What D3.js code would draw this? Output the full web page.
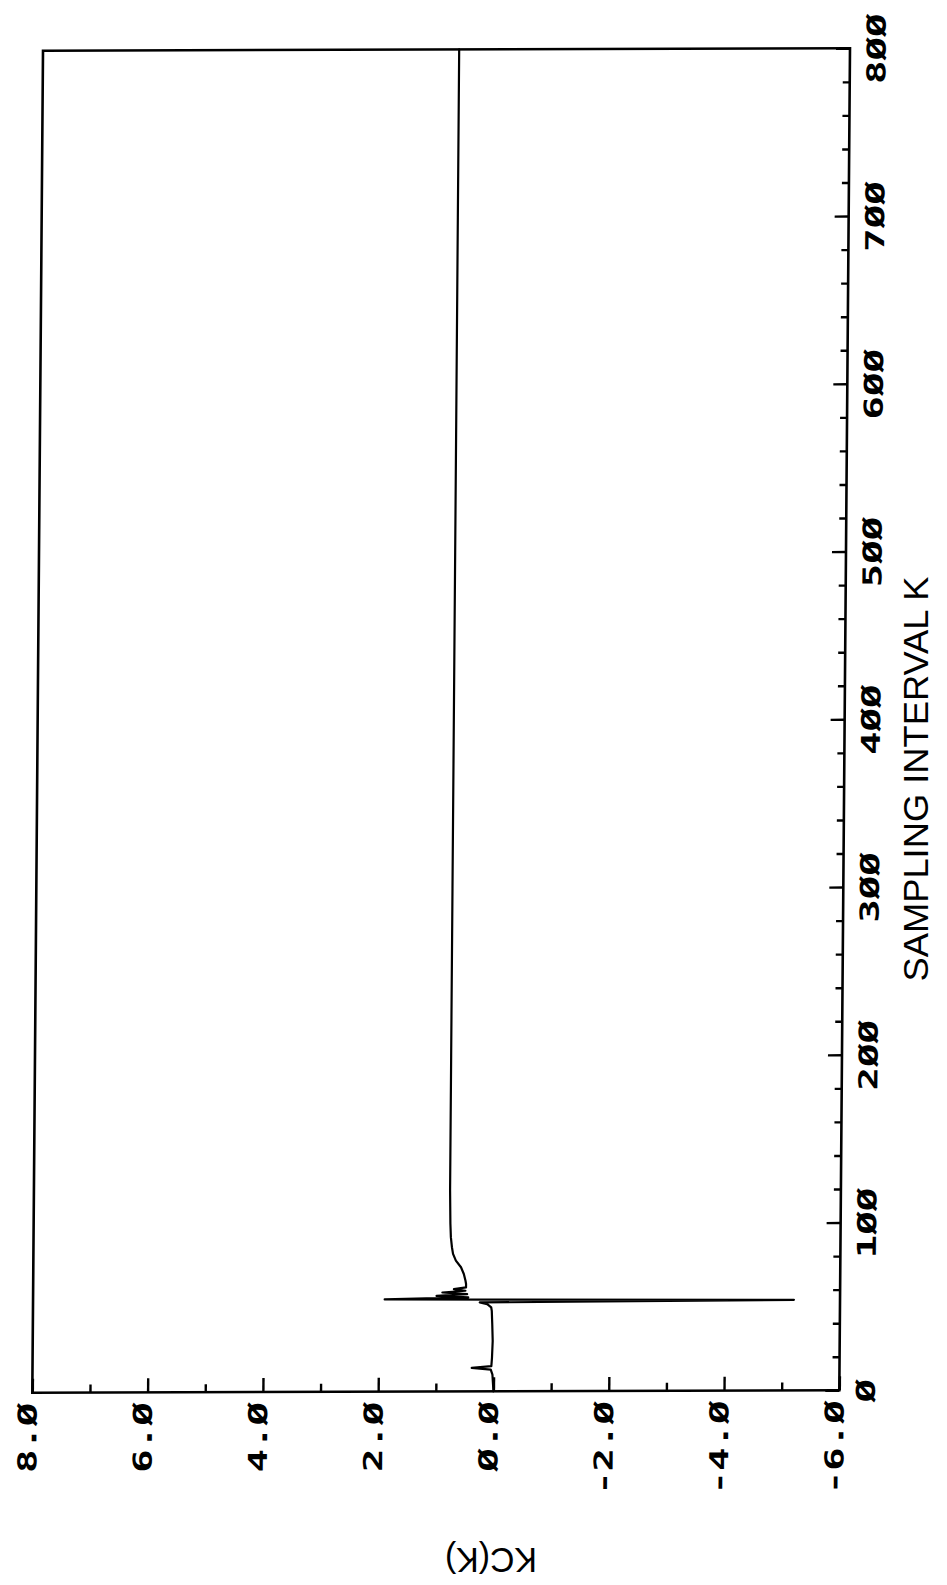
<!DOCTYPE html>
<html><head><meta charset="utf-8">
<script src="https://cdn.jsdelivr.net/npm/d3@7"></script>
<style>body{margin:0;background:#fff}</style>
</head><body>
<svg id="c" width="947" height="1585"></svg>
<script>
// Data read from the (rotated) chart
const kValues  = [0, 5, 10, 13, 14, 15, 20, 30, 40, 48,
                  50, 52, 53, 54, 55, 56, 57, 58, 59, 60,
                  61, 62, 64, 66, 70, 74, 78, 82, 86, 92,
                  100, 120, 200, 300, 400, 500, 600, 700, 800];
const kcValues = [0.00, 0.01, 0.02, 0.05, 0.38, 0.04, 0.03, 0.02, 0.03, 0.04,
                  0.05, 0.12, 0.25, -5.2, 1.9, 0.45, 1.0, 0.47, 0.9, 0.5,
                  0.7, 0.49, 0.49, 0.5, 0.53, 0.58, 0.67, 0.72, 0.74, 0.76,
                  0.77, 0.78, 0.78, 0.78, 0.78, 0.78, 0.78, 0.78, 0.78];
const kTicksMajor = [0, 100, 200, 300, 400, 500, 600, 700, 800];
const kTicksMinor = [20, 40, 60, 80, 120, 140, 160, 180, 220, 240, 260, 280, 320, 340, 360, 380,
                     420, 440, 460, 480, 520, 540, 560, 580, 620, 640, 660, 680, 720, 740, 760, 780];
const kcTicksMajor = [8, 6, 4, 2, 0, -2, -4, -6];
const kcTicksMinor = [7, 5, 3, 1, -1, -3, -5];
const xTitle = "SAMPLING INTERVAL K";
const yTitle = "KC(K)";

const W = 807, H = 1342;
const svg = d3.select("#c");
svg.append("rect").attr("width", 947).attr("height", 1585).attr("fill", "#fff");

// slight scan skew of the original page
const g = svg.append("g").attr("transform", "matrix(1,-0.00297,-0.00797,1,43,50.7)");

const x = d3.scaleLinear().domain([8, -6]).range([0, W]);   // Kc(K), horizontal
const y = d3.scaleLinear().domain([0, 800]).range([H, 0]);  // K, vertical

const fmtZ = s => s.replace(/0/g, "Ø");
const fmtK = v => fmtZ(String(v));
const fmtKc = v => fmtZ(v.toFixed(1));

const tickFont = "'DejaVu Sans Mono', monospace";

function styleAxis(sel) {
  sel.select(".domain").remove();
  sel.attr("font-family", tickFont).attr("font-size", 26).attr("font-weight", "bold");
  sel.selectAll(".tick line").attr("stroke", "#000").attr("stroke-width", 2.4);
  sel.selectAll(".tick text").attr("fill", "#000");
}

// K axis (right edge, ticks pointing inward)
const kMinor = g.append("g").attr("transform", `translate(${W},0)`)
  .call(d3.axisRight(y).tickValues(kTicksMinor).tickSize(-7).tickFormat(""));
styleAxis(kMinor);
const kMajor = g.append("g").attr("transform", `translate(${W},0)`)
  .call(d3.axisRight(y).tickValues(kTicksMajor).tickSize(-14).tickFormat(fmtK));
styleAxis(kMajor);
kMajor.selectAll(".tick text")
  .attr("x", 0).attr("y", 0).attr("dy", 0)
  .attr("text-anchor", "middle")
  .attr("transform", "translate(35.5,0) rotate(-90) scale(1.5,1)");

// Kc axis (bottom edge, ticks pointing inward)
const cMinor = g.append("g").attr("transform", `translate(0,${H})`)
  .call(d3.axisBottom(x).tickValues(kcTicksMinor).tickSize(-8).tickFormat(""));
styleAxis(cMinor);
const cMajor = g.append("g").attr("transform", `translate(0,${H})`)
  .call(d3.axisBottom(x).tickValues(kcTicksMajor).tickSize(-14).tickFormat(fmtKc));
styleAxis(cMajor);
cMajor.selectAll(".tick text")
  .attr("x", 0).attr("y", 0).attr("dy", 0)
  .attr("text-anchor", "end")
  .attr("transform", "translate(4,10) rotate(-90) scale(1.5,1)");

// frame
g.append("rect").attr("x", 0).attr("y", 0).attr("width", W).attr("height", H)
  .attr("fill", "none").attr("stroke", "#000").attr("stroke-width", 2.6);

// data line
const data = kValues.map((k, i) => ({k, kc: kcValues[i]}));
g.append("path").datum(data)
  .attr("fill", "none").attr("stroke", "#000").attr("stroke-width", 2.2)
  .attr("stroke-linejoin", "round").attr("stroke-linecap", "round")
  .attr("d", d3.line().x(d => x(d.kc)).y(d => y(d.k)));

// axis titles
svg.append("text").text(xTitle)
  .attr("font-family", "'Liberation Sans', Arial, sans-serif").attr("font-size", 35)
  .attr("text-anchor", "middle").attr("fill", "#000")
  .attr("textLength", 405).attr("lengthAdjust", "spacingAndGlyphs")
  .attr("transform", "translate(928,779) rotate(-90)");
svg.append("text").text(yTitle)
  .attr("font-family", "'Liberation Sans', Arial, sans-serif").attr("font-size", 35)
  .attr("text-anchor", "middle").attr("fill", "#000")
  .attr("textLength", 92).attr("lengthAdjust", "spacingAndGlyphs")
  .attr("transform", "translate(491,1548) rotate(180)");
</script>
</body></html>
